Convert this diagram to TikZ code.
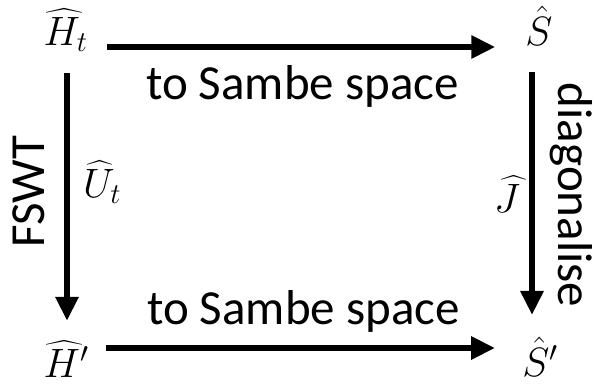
\RequirePackage{fix-cm}
\documentclass[tikz,border=0pt]{standalone}
\usepackage{amsmath}
\usepackage{fontspec}
\setmainfont{Carlito}
\usetikzlibrary{arrows.meta,calc}
\tikzset{
  mathlbl/.style={inner sep=0pt, anchor=base, font=\fontsize{41}{48}\selectfont},
  txtlbl/.style={inner sep=0pt, anchor=base, font=\fontsize{49}{56}\selectfont},
  rottxt/.style={inner sep=0pt, font=\fontsize{49}{56}\selectfont},
  arr/.style={line width=6pt, -{Triangle[width=22pt,length=24pt]}}
}
\begin{document}
\begin{tikzpicture}[x=1pt,y=-1pt]
\useasboundingbox (0,0) rectangle (601,388);
\node[mathlbl] (Ht) at (65.5,45) {$\widehat{H}_t$};
\node[mathlbl] (S) at (539,45) {$\hat{S}$};
\node[mathlbl] (Hp) at (66,377) {$\widehat{H}'$};
\node[mathlbl] (Sp) at (540,376) {$\hat{S}'$};
\node[mathlbl] (U) at (102,197) {$\widehat{U}_t$};
\node[mathlbl] (J) at (507,212) {$\widehat{J}$};
\node[txtlbl] (top) at (302.5,99) {to Sambe space};
\node[txtlbl] (bot) at (303.5,324) {to Sambe space};
\node[rottxt, rotate=90] (fswt) at (29,191.5) {FSWT};
\node[rottxt, rotate=-90] (diag) at (571,195) {diagonalise};
\draw[arr] ($(Ht.east |- 0,47)+(19,0)$) -- ($(S.west |- 0,47)+(-30,0)$);
\draw[arr] ($(Hp.east |- 0,348)+(17,0)$) -- ($(Sp.west |- 0,348)+(-27,0)$);
\draw[arr] ($(Ht.south -| 67,0)+(0,22)$) -- ($(Hp.north -| 67,0)+(0,-20)$);
\draw[arr] ($(S.south -| 532,0)+(0,27)$) -- ($(Sp.north -| 532,0)+(0,-22)$);
\end{tikzpicture}
\end{document}
